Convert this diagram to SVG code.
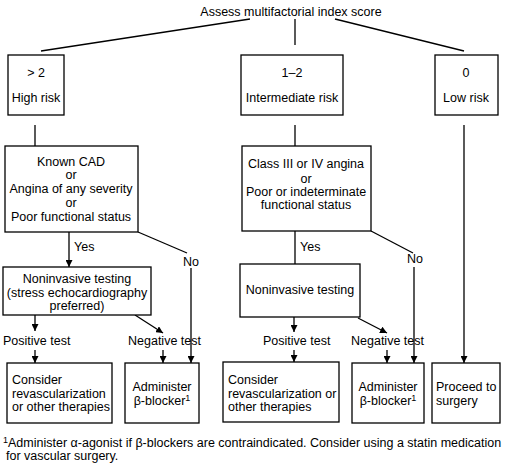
<svg xmlns="http://www.w3.org/2000/svg" width="505" height="465" viewBox="0 0 505 465">
<defs>
<marker id="ah" viewBox="0 0 10 10" refX="10" refY="5" markerWidth="7" markerHeight="7" markerUnits="userSpaceOnUse" orient="auto">
<path d="M0,0 L10,5 L0,10 z" fill="#000"/>
</marker>
</defs>
<style>
text{font-family:"Liberation Sans",Arial,sans-serif;font-size:12.5px;fill:#000}
.c{text-anchor:middle}
rect{fill:#fff;stroke:#000;stroke-width:1.3}
line,polyline{stroke:#000;stroke-width:1.3;fill:none}
.a{marker-end:url(#ah)}
</style>
<rect x="0" y="0" width="505" height="465" style="fill:#fff;stroke:none"/>
<g id="title"><text class="c" x="291" y="16">Assess multifactorial index score</text></g>
<g id="connectors">
<line x1="250" y1="19" x2="41" y2="51"/>
<line x1="295" y1="19" x2="295" y2="45"/>
<line x1="335" y1="19" x2="464" y2="51"/>
<line x1="35" y1="125" x2="35" y2="146"/>
<line x1="295" y1="125" x2="295" y2="146"/>
<line class="a" x1="464" y1="125" x2="464" y2="363"/>
<line class="a" x1="69" y1="232" x2="69" y2="267"/>
<line x1="138" y1="232" x2="187" y2="253"/>
<line class="a" x1="191" y1="268" x2="191" y2="363"/>
<line class="a" x1="35" y1="315" x2="35" y2="331"/>
<line class="a" x1="35" y1="350" x2="35" y2="363"/>
<line class="a" x1="135" y1="315" x2="163" y2="333"/>
<line class="a" x1="163" y1="350" x2="163" y2="363"/>
<line x1="295" y1="231" x2="295" y2="264"/>
<line x1="371" y1="231" x2="413" y2="253"/>
<line class="a" x1="414" y1="267" x2="414" y2="363"/>
<line class="a" x1="294" y1="317" x2="294" y2="332"/>
<line class="a" x1="294" y1="350" x2="294" y2="362"/>
<line class="a" x1="358" y1="318" x2="387" y2="333"/>
<line class="a" x1="387" y1="350" x2="387" y2="363"/>
<text x="74" y="251">Yes</text>
<text x="183" y="266">No</text>
<text x="300" y="251">Yes</text>
<text x="407" y="263">No</text>
<text x="3" y="345">Positive test</text>
<text x="128" y="345">Negative test</text>
<text x="263" y="345">Positive test</text>
<text x="351" y="345">Negative test</text>
</g>
<g id="high"><rect x="8" y="55" width="56" height="60"/><text class="c" x="36" y="77">&gt; 2</text><text class="c" x="36" y="102">High risk</text></g>
<g id="intermediate"><rect x="241" y="55" width="102" height="60"/><text class="c" x="292" y="77">1–2</text><text class="c" x="292" y="102">Intermediate risk</text></g>
<g id="low"><rect x="435" y="55" width="63" height="60"/><text class="c" x="466" y="77">0</text><text class="c" x="466" y="102">Low risk</text></g>
<g id="knowncad"><rect x="5" y="146" width="133" height="86"/>
<text class="c" x="71" y="166">Known CAD</text><text class="c" x="71" y="179">or</text><text class="c" x="71" y="193">Angina of any severity</text><text class="c" x="71" y="207">or</text><text class="c" x="71" y="221">Poor functional status</text></g>
<g id="classiii"><rect x="242" y="146" width="129" height="85"/>
<text class="c" x="306" y="168">Class III or IV angina</text><text class="c" x="306" y="183">or</text><text class="c" x="306" y="196">Poor or indeterminate</text><text class="c" x="306" y="209">functional status</text></g>
<g id="nit1"><rect x="3" y="267" width="148" height="48"/>
<text class="c" x="77" y="283">Noninvasive testing</text><text class="c" x="77" y="297">(stress echocardiography</text><text class="c" x="77" y="310">preferred)</text></g>
<g id="nit2"><rect x="240" y="264" width="120" height="53"/><text class="c" x="300" y="294">Noninvasive testing</text></g>
<g id="consider1"><rect x="7" y="363" width="105" height="60"/>
<text x="12" y="384">Consider</text><text x="12" y="398">revascularization</text><text x="12" y="411">or other therapies</text></g>
<g id="admin1"><rect x="125" y="363" width="74" height="60"/>
<text class="c" x="162" y="391">Administer</text><text class="c" x="162" y="405">β-blocker<tspan font-size="9" dy="-4">1</tspan></text></g>
<g id="consider2"><rect x="223" y="362" width="116" height="60"/>
<text x="228" y="384">Consider</text><text x="228" y="398">revascularization or</text><text x="228" y="411">other therapies</text></g>
<g id="admin2"><rect x="352" y="363" width="72" height="60"/>
<text class="c" x="388" y="391">Administer</text><text class="c" x="388" y="405">β-blocker<tspan font-size="9" dy="-4">1</tspan></text></g>
<g id="proceed"><rect x="432" y="363" width="68" height="60"/>
<text x="436" y="391">Proceed to</text><text x="436" y="405">surgery</text></g>
<g id="footnote">
<text x="3" y="447"><tspan font-size="9" dy="-4">1</tspan><tspan dy="4">Administer α-agonist if β-blockers are contraindicated. Consider using a statin medication</tspan></text>
<text x="6" y="460">for vascular surgery.</text>
</g>
</svg>
